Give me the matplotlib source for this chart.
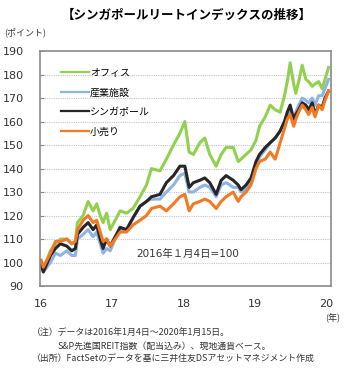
import numpy as np
import matplotlib
matplotlib.use("Agg")
import matplotlib.pyplot as plt

plt.rcParams['font.family'] = ['DejaVu Sans', 'Noto Sans CJK JP']

# time axis in decimal years (16 = 2016)
t = [16.00, 16.03, 16.13, 16.20, 16.27, 16.36, 16.43, 16.48, 16.51, 16.59,
     16.66, 16.73, 16.78, 16.83, 16.87, 16.92, 16.97, 17.04, 17.11, 17.20,
     17.29, 17.39, 17.48, 17.55, 17.67, 17.76, 17.86, 17.95, 18.02, 18.08,
     18.14, 18.23, 18.30, 18.37, 18.46, 18.53, 18.60, 18.70, 18.77, 18.81,
     18.88, 18.95, 19.02, 19.07, 19.15, 19.22, 19.29, 19.36, 19.42, 19.46,
     19.50, 19.55, 19.58, 19.62, 19.67, 19.72, 19.76, 19.81, 19.85, 19.90,
     19.95, 19.99, 20.04]

office = [100, 97, 105, 108, 110, 110, 108, 109, 117, 120,
          126, 122, 125, 120, 117, 121, 114, 118, 122, 121,
          123, 128, 133, 140, 139, 144, 150, 155, 160, 147,
          146, 151, 153, 146, 141, 146, 149, 149, 143, 144,
          146, 148, 152, 158, 162, 167, 165, 164, 171, 177,
          185, 176, 172, 177, 184, 178, 177, 175, 176, 177,
          174, 178, 183]

industrial = [99, 96, 100, 104, 103, 105, 103, 103, 110, 112,
              114, 111, 113, 108, 104, 106, 105, 110, 114, 114,
              119, 124, 126, 127, 127, 130, 133, 137, 138, 130,
              130, 132, 133, 132, 128, 133, 134, 132, 132, 130,
              131, 135, 141, 145, 148, 151, 153, 156, 160, 163,
              165, 161, 164, 167, 170, 169, 168, 170, 167, 171,
              171, 174, 178]

singapore = [99, 96, 103, 106, 108, 107, 105, 106, 112, 115,
             117, 114, 116, 110, 106, 110, 107, 111, 115, 114,
             119, 124, 126, 128, 129, 134, 137, 141, 141, 132,
             134, 135, 136, 134, 129, 135, 137, 135, 133, 131,
             133, 136, 143, 146, 149, 151, 153, 156, 160, 164,
             167, 161, 163, 165, 168, 167, 165, 168, 163, 167,
             166, 170, 173]

retail = [101, 98, 104, 109, 109, 110, 108, 109, 114, 118,
          120, 117, 118, 113, 109, 110, 107, 110, 113, 113,
          116, 118, 120, 123, 124, 122, 125, 128, 129, 122,
          125, 126, 127, 126, 123, 126, 128, 130, 126, 128,
          130, 133, 140, 143, 144, 147, 144, 151, 157, 161,
          163, 158, 161, 164, 167, 165, 163, 166, 162, 167,
          165, 169, 173]

labels = ['オフィス', '産業施設', 'シンガポール', '小売り']
colors = ['#92D050', '#8DB4E2', '#262626', '#F37A25']
x_ticks = [16, 17, 18, 19, 20]
y_ticks = [90, 100, 110, 120, 130, 140, 150, 160, 170, 180, 190]

fig = plt.figure(figsize=(3.49, 3.85), dpi=100)
ax = fig.add_axes([0.116, 0.257, 0.8315, 0.6104])

for vals, lab, col in zip([office, industrial, singapore, retail], labels, colors):
    ax.plot(t, vals, color=col, lw=2.2, label=lab)

ax.set_xlim(15.99, 20.07)
ax.set_ylim(90, 190)
ax.set_xticks(x_ticks)
ax.set_xticklabels([str(v) for v in x_ticks])
ax.set_yticks(y_ticks)

for y in y_ticks[1:-1]:
    ax.axhline(y, color='#c4c4d4', lw=0.8, ls=(0, (1, 1)), zorder=0)

for s in ax.spines.values():
    s.set_color('#8a8a8a')
    s.set_linewidth(1.2)

ax.tick_params(axis='y', direction='in', length=3, color='#8a8a8a',
               labelsize=8, labelcolor='#333333', pad=12)
ax.tick_params(axis='x', length=0, labelsize=8, labelcolor='#333333', pad=9)

leg = ax.legend(loc='upper left', bbox_to_anchor=(0.07, 0.928), frameon=False,
                fontsize=7.2, handlelength=2.8, handletextpad=0.1,
                labelspacing=0.95, borderpad=0, borderaxespad=0)
for h in leg.get_lines():
    h.set_linewidth(1.6)

ax.text(0.508, 0.135, '2016年１月4日=100', transform=ax.transAxes,
        fontsize=7.5, color='#333333', ha='center', va='center')

fig.text(187 / 349, 1 - 15 / 385, '【シンガポールリートインデックスの推移】',
         fontsize=9, fontweight='bold', ha='center', va='center',
         family=['Noto Sans CJK JP', 'DejaVu Sans'])
fig.text(4 / 349, 1 - 32 / 385, '(ポイント)', fontsize=6.5, color='#333333',
         ha='left', va='center', family=['Noto Sans CJK JP', 'DejaVu Sans'])
fig.text(333 / 349, 1 - 318 / 385, '(年)', fontsize=6.5, color='#333333',
         ha='center', va='center', family=['Noto Sans CJK JP', 'DejaVu Sans'])

notes = [
    (32, 333, '（注）データは2016年1月4日～2020年1月15日。'),
    (58, 346, 'S&P先進国REIT指数（配当込み）、現地通貨ベース。'),
    (32, 359, '（出所）FactSetのデータを基に三井住友DSアセットマネジメント作成'),
]
for nx, ny, s in notes:
    fig.text(nx / 349, 1 - ny / 385, s, fontsize=6.4, color='#333333',
             ha='left', va='center', family=['Noto Sans CJK JP', 'DejaVu Sans'])

fig.savefig('out.png', dpi=100)
